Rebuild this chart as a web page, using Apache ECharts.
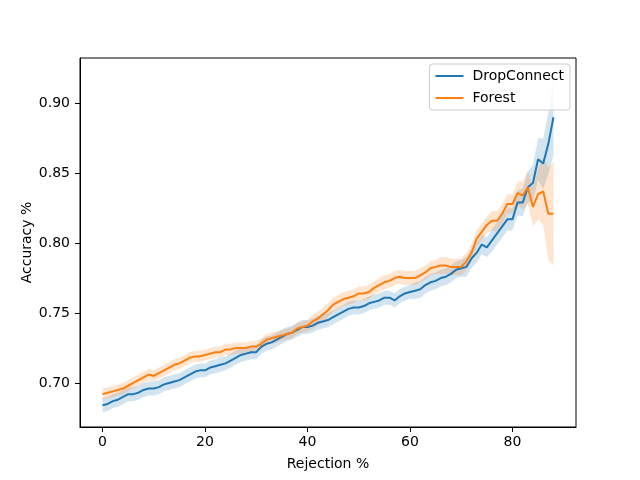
<!DOCTYPE html>
<html>
<head>
<meta charset="utf-8">
<script src="https://cdn.jsdelivr.net/npm/echarts@6/dist/echarts.min.js"></script>
<style>
  html, body { margin: 0; padding: 0; background: #fff; }
  #chart { width: 640px; height: 480px; }
</style>
</head>
<body>
<div id="chart"></div>
<script>
// rejection % on x, one point per step
var rejection = [];
for (var k = 0; k <= 88; k++) rejection.push(k);

var dropConnect = [
  0.684, 0.685, 0.687, 0.688, 0.690, 0.692, 0.692, 0.693, 0.695, 0.696,
  0.696, 0.697, 0.699, 0.700, 0.701, 0.702, 0.704, 0.706, 0.708, 0.709,
  0.709, 0.711, 0.712, 0.713, 0.714, 0.716, 0.718, 0.720, 0.721, 0.722,
  0.722, 0.726, 0.728, 0.729, 0.731, 0.733, 0.735, 0.736, 0.738, 0.740,
  0.740, 0.741, 0.743, 0.744, 0.745, 0.747, 0.749, 0.751, 0.753, 0.754,
  0.754, 0.755, 0.757, 0.758, 0.759, 0.761, 0.761, 0.759, 0.762, 0.764,
  0.765, 0.766, 0.767, 0.770, 0.772, 0.773, 0.775, 0.776, 0.778, 0.781,
  0.782, 0.783, 0.789, 0.793, 0.799, 0.797, 0.802, 0.807, 0.812, 0.817,
  0.817, 0.829, 0.829, 0.840, 0.843, 0.860, 0.857, 0.871, 0.890
];
var dropConnectErr = [
  0.005, 0.005, 0.005, 0.005, 0.005, 0.005, 0.005, 0.005, 0.005, 0.005,
  0.005, 0.005, 0.005, 0.005, 0.005, 0.005, 0.005, 0.005, 0.005, 0.005,
  0.005, 0.005, 0.005, 0.005, 0.005, 0.005, 0.005, 0.005, 0.005, 0.005,
  0.005, 0.005, 0.005, 0.005, 0.005, 0.005, 0.005, 0.005, 0.005, 0.005,
  0.005, 0.005, 0.005, 0.005, 0.005, 0.005, 0.005, 0.005, 0.005, 0.005,
  0.005, 0.005, 0.005, 0.005, 0.005, 0.005, 0.005, 0.005, 0.005, 0.005,
  0.005, 0.006, 0.006, 0.006, 0.006, 0.006, 0.006, 0.006, 0.006, 0.006,
  0.006, 0.007, 0.007, 0.007, 0.007, 0.007, 0.008, 0.008, 0.008, 0.008,
  0.008, 0.009, 0.010, 0.011, 0.013, 0.015, 0.018, 0.022, 0.027
];

var forest = [
  0.692, 0.693, 0.694, 0.695, 0.696, 0.698, 0.700, 0.702, 0.704, 0.706,
  0.705, 0.707, 0.709, 0.711, 0.713, 0.714, 0.716, 0.718, 0.719, 0.719,
  0.720, 0.721, 0.722, 0.722, 0.724, 0.724, 0.725, 0.725, 0.725, 0.726,
  0.726, 0.728, 0.731, 0.732, 0.733, 0.734, 0.735, 0.736, 0.739, 0.740,
  0.741, 0.744, 0.746, 0.749, 0.752, 0.756, 0.758, 0.760, 0.761, 0.762,
  0.764, 0.764, 0.765, 0.768, 0.770, 0.772, 0.773, 0.775, 0.776, 0.775,
  0.775, 0.775, 0.777, 0.779, 0.782, 0.783, 0.784, 0.784, 0.783, 0.783,
  0.783, 0.787, 0.793, 0.803, 0.808, 0.813, 0.816, 0.816, 0.821, 0.828,
  0.828, 0.836, 0.834, 0.840, 0.826, 0.835, 0.837, 0.821, 0.821
];
var forestErr = [
  0.004, 0.004, 0.004, 0.004, 0.004, 0.004, 0.004, 0.004, 0.004, 0.004,
  0.004, 0.004, 0.004, 0.004, 0.004, 0.004, 0.004, 0.004, 0.004, 0.004,
  0.004, 0.004, 0.004, 0.004, 0.004, 0.004, 0.004, 0.004, 0.004, 0.004,
  0.004, 0.004, 0.004, 0.004, 0.004, 0.004, 0.004, 0.004, 0.004, 0.004,
  0.004, 0.005, 0.005, 0.005, 0.005, 0.005, 0.005, 0.005, 0.005, 0.005,
  0.005, 0.005, 0.005, 0.005, 0.005, 0.005, 0.005, 0.005, 0.005, 0.005,
  0.005, 0.005, 0.005, 0.005, 0.005, 0.005, 0.006, 0.006, 0.006, 0.006,
  0.006, 0.006, 0.006, 0.006, 0.006, 0.006, 0.007, 0.007, 0.007, 0.007,
  0.007, 0.008, 0.010, 0.012, 0.014, 0.018, 0.024, 0.033, 0.037
];

var xTicks = [0, 20, 40, 60, 80];
var yTicks = [0.70, 0.75, 0.80, 0.85, 0.90];

function pairs(xs, ys) {
  var out = [];
  for (var i = 0; i < xs.length; i++) out.push([xs[i], ys[i]]);
  return out;
}

// shaded band between mean-err and mean+err, drawn as one polygon
function bandSeries(name, mean, err, color) {
  return {
    name: name,
    type: 'custom',
    clip: true,
    silent: true,
    data: [[0, 0]],
    renderItem: function (params, api) {
      var pts = [];
      var i;
      for (i = 0; i < rejection.length; i++) {
        pts.push(api.coord([rejection[i], mean[i] + err[i]]));
      }
      for (i = rejection.length - 1; i >= 0; i--) {
        pts.push(api.coord([rejection[i], mean[i] - err[i]]));
      }
      return {
        type: 'polygon',
        shape: { points: pts },
        style: { fill: color, opacity: 0.2 }
      };
    }
  };
}

var font = 'DejaVu Sans';
var chart = echarts.init(document.getElementById('chart'), null, { renderer: 'canvas' });

var option = {
  animation: false,
  backgroundColor: '#fff',
  textStyle: { fontFamily: font, color: '#000' },
  grid: {
    left: 80, right: 64, top: 58, bottom: 53,
    show: true, borderColor: '#000', borderWidth: 1
  },
  legend: {
    data: ['DropConnect', 'Forest'],
    orient: 'vertical',
    right: 70, top: 64,
    padding: [5, 6, 5, 6],
    itemGap: 8,
    itemWidth: 28, itemHeight: 2,
    icon: 'rect',
    backgroundColor: 'rgba(255,255,255,0.8)',
    borderColor: '#cccccc', borderWidth: 1, borderRadius: 3,
    textStyle: { fontFamily: font, fontSize: 14, color: '#000', padding: [0, 0, 0, 4] }
  },
  xAxis: {
    type: 'value',
    min: -4.4, max: 92.4,
    name: 'Rejection %',
    nameLocation: 'middle',
    nameGap: 30,
    nameMoveOverlap: false,
    nameTextStyle: { fontFamily: font, fontSize: 14, color: '#000' },
    axisLine: { show: true, onZero: false, lineStyle: { color: '#000', width: 1 } },
    axisTick: { show: true, length: 5, customValues: xTicks, lineStyle: { color: '#000' } },
    axisLabel: { customValues: xTicks, fontFamily: font, fontSize: 14, color: '#000', margin: 8 },
    splitLine: { show: false }
  },
  yAxis: {
    type: 'value',
    min: 0.6685, max: 0.9324,
    name: 'Accuracy %',
    nameLocation: 'middle',
    nameRotate: 90,
    nameGap: 46,
    nameMoveOverlap: false,
    nameTextStyle: { fontFamily: font, fontSize: 14, color: '#000' },
    axisLine: { show: true, onZero: false, lineStyle: { color: '#000', width: 1 } },
    axisTick: { show: true, length: 5, customValues: yTicks, lineStyle: { color: '#000' } },
    axisLabel: {
      customValues: yTicks, fontFamily: font, fontSize: 14, color: '#000', margin: 10,
      formatter: function (v) { return v.toFixed(2); }
    },
    splitLine: { show: false }
  },
  series: [
    {
      name: 'DropConnect',
      type: 'line',
      data: pairs(rejection, dropConnect),
      showSymbol: false,
      symbol: 'none',
      color: '#1f77b4',
      lineStyle: { color: '#1f77b4', width: 2 }
    },
    bandSeries('DropConnect band', dropConnect, dropConnectErr, '#1f77b4'),
    {
      name: 'Forest',
      type: 'line',
      data: pairs(rejection, forest),
      showSymbol: false,
      symbol: 'none',
      color: '#ff7f0e',
      lineStyle: { color: '#ff7f0e', width: 2 }
    },
    bandSeries('Forest band', forest, forestErr, '#ff7f0e')
  ]
};

chart.setOption(option);
</script>
</body>
</html>
